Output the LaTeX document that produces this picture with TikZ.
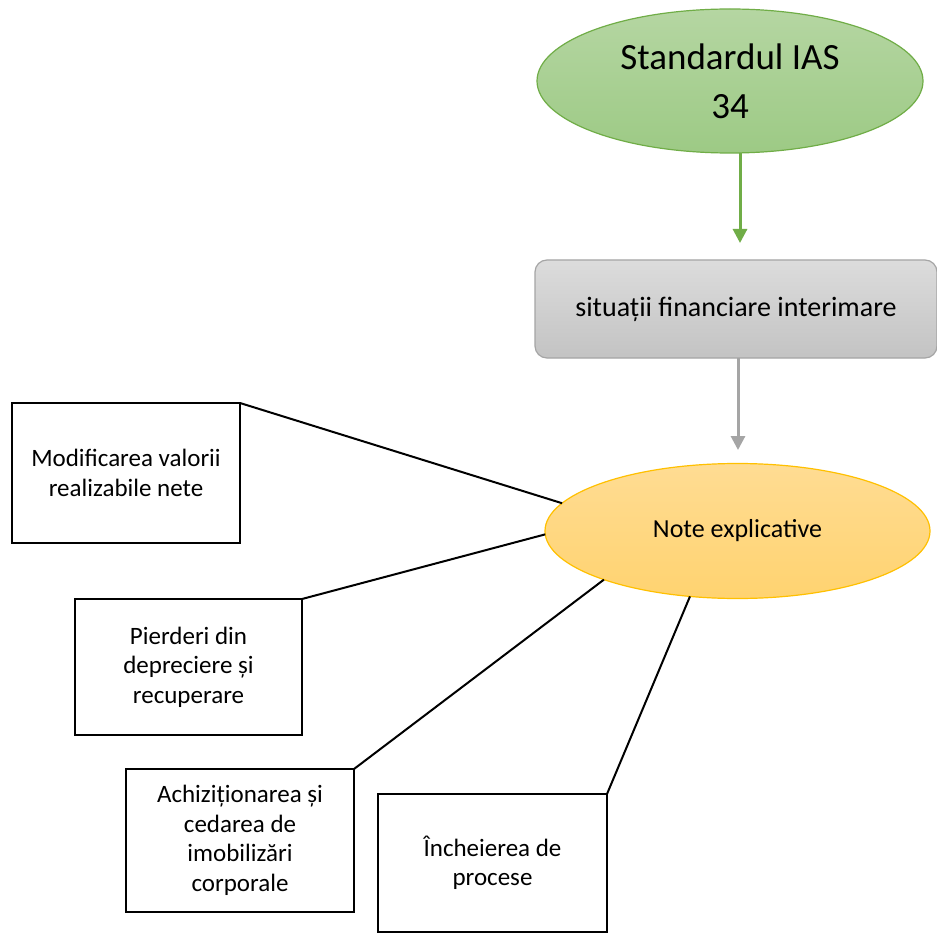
\documentclass[tikz,border=0pt]{standalone}
\usepackage{fontspec}
\setmainfont{Carlito}
\usetikzlibrary{shapes.geometric,arrows.meta}
\definecolor{gborder}{HTML}{70AD47}
\definecolor{gtop}{HTML}{B5D6A2}
\definecolor{gbot}{HTML}{9DCA85}
\definecolor{grtop}{HTML}{DCDCDC}
\definecolor{grbot}{HTML}{C3C3C3}
\definecolor{grborder}{HTML}{A5A5A5}
\definecolor{ytop}{HTML}{FFDC93}
\definecolor{ybot}{HTML}{FFD370}
\definecolor{yborder}{HTML}{FFC000}
\tikzset{
  topell/.style={ellipse, draw=gborder, line width=1.2pt, top color=gtop, bottom color=gbot,
    minimum width=386pt, minimum height=144pt, inner sep=0pt, outer sep=0pt,
    align=center, font=\fontsize{37}{49}\selectfont},
  graybox/.style={rectangle, rounded corners=12pt, draw=grborder, line width=1.2pt, top color=grtop, bottom color=grbot,
    minimum width=402pt, minimum height=98pt, inner sep=0pt, outer sep=0pt, font=\fontsize{28}{34}\selectfont},
  noteell/.style={ellipse, draw=yborder, line width=1.2pt, top color=ytop, bottom color=ybot,
    minimum width=385pt, minimum height=135pt, inner sep=0pt, outer sep=0pt, font=\fontsize{26}{32}\selectfont},
  itembox/.style={rectangle, draw=black, line width=2pt, inner sep=0pt, outer sep=0pt,
    align=center, font=\fontsize{25}{29.5}\selectfont},
  link/.style={draw=black, line width=2pt},
  garrow/.style={draw=gborder, line width=3pt, -{Triangle[length=14pt,width=14pt]}},
  grarrow/.style={draw=grborder, line width=3pt, -{Triangle[length=14pt,width=14pt]}},
}
\begin{document}
\begin{tikzpicture}[x=1pt,y=-1pt]
\useasboundingbox (0,0) rectangle (937,933);
\fill[white] (0,0) rectangle (937,933);

\node[topell] (ias) at (730,81) {Standardul IAS\\34};
\node[graybox] (sit) at (736,309) {situații financiare interimare};
\node[noteell] (note) at (737.5,531) {Note explicative};

\coordinate (a1s) at (740,153);
\coordinate (a1e) at (740,243);
\draw[garrow] (a1s) -- (a1e);
\coordinate (a2s) at (738,358);
\coordinate (a2e) at (738,450);
\draw[grarrow] (a2s) -- (a2e);

\node[itembox, minimum width=228pt, minimum height=140pt] (b1) at (126,473) {Modificarea valorii\\realizabile nete};
\node[itembox, minimum width=227pt, minimum height=136pt] (b2) at (188.5,667) {Pierderi din\\depreciere și\\recuperare};
\node[itembox, minimum width=228pt, minimum height=143pt] (b3) at (240,840.5) {Achiziționarea și\\cedarea de\\imobilizări\\corporale};
\node[itembox, minimum width=229pt, minimum height=138pt] (b4) at (492.5,863) {Încheierea de\\procese};

\draw[link] (b1.north east) -- (note.171.7);
\draw[link] (b2.north east) -- (note.181);
\draw[link] (b3.north east) -- (note.200);
\draw[link] (b4.north east) -- (note.234.7);
\end{tikzpicture}
\end{document}
